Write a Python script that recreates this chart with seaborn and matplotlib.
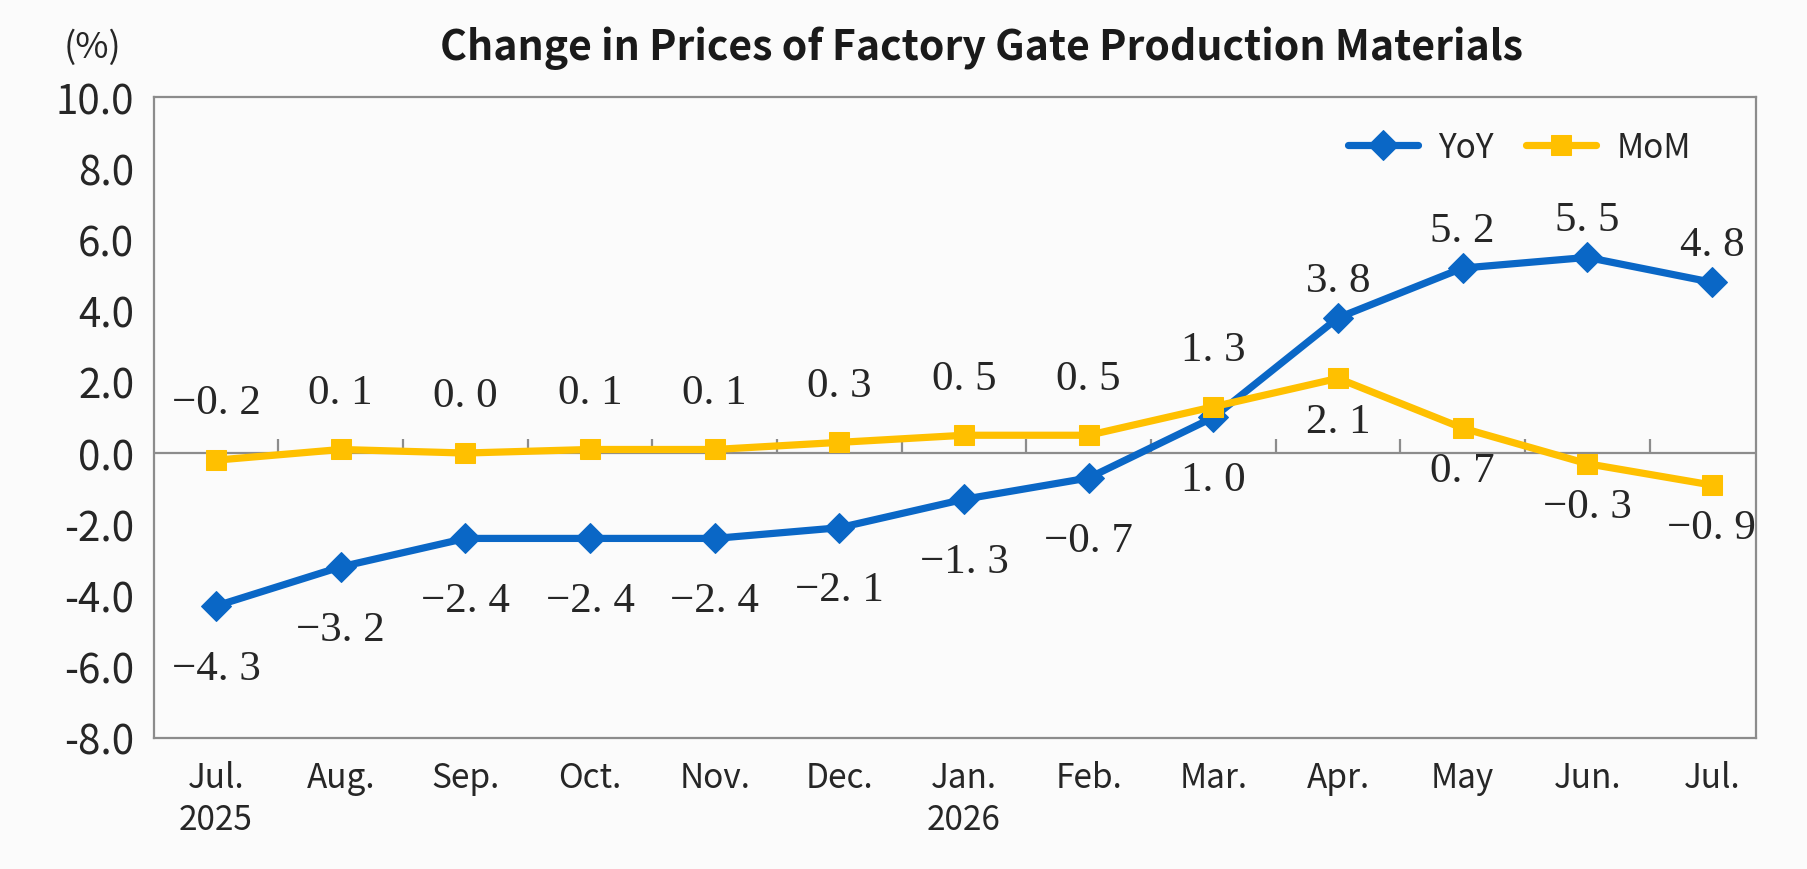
import numpy as np
import pandas as pd
import matplotlib
matplotlib.use('Agg')
import matplotlib.pyplot as plt
import seaborn as sns

# chart data
months = ['Jul.\n2025', 'Aug.', 'Sep.', 'Oct.', 'Nov.', 'Dec.', 'Jan.\n2026',
          'Feb.', 'Mar.', 'Apr.', 'May', 'Jun.', 'Jul.']
yoy = [-4.3, -3.2, -2.4, -2.4, -2.4, -2.1, -1.3, -0.7, 1.0, 3.8, 5.2, 5.5, 4.8]
mom = [-0.2, 0.1, 0.0, 0.1, 0.1, 0.3, 0.5, 0.5, 1.3, 2.1, 0.7, -0.3, -0.9]
y_ticks = [-8.0, -6.0, -4.0, -2.0, 0.0, 2.0, 4.0, 6.0, 8.0, 10.0]
title = 'Change in Prices of Factory Gate Production Materials'

sns.set_style('white')
plt.rcParams['font.family'] = ['Noto Sans CJK SC', 'DejaVu Sans']

blue = '#0A67C6'
gold = '#FFC000'
grey = '#8C8C8C'
bg = '#FBFBFB'

df = pd.DataFrame({'pos': np.arange(len(months)), 'YoY': yoy, 'MoM': mom})

fig = plt.figure(figsize=(18.08, 8.70), dpi=100, facecolor=bg)
ax = fig.add_axes([0.085, 0.151, 0.886, 0.736])
ax.set_facecolor(bg)

sns.lineplot(data=df, x='pos', y='YoY', ax=ax, color=blue, lw=5.2,
             marker='D', markersize=15, markeredgecolor=blue, label='YoY')
sns.lineplot(data=df, x='pos', y='MoM', ax=ax, color=gold, lw=5.2,
             marker='s', markersize=15, markeredgecolor=gold, label='MoM')

ax.set_xlim(-0.5, 12.35)
ax.set_ylim(-8, 10)

# zero line with category separators
ax.axhline(0, color=grey, lw=1.6, zorder=1)
ax.vlines(np.arange(0.5, len(months) - 1), 0, 0.4, color=grey, lw=1.6, zorder=1)

ax.set_xticks(df['pos'])
ax.set_xticklabels(months, fontsize=24, linespacing=1.25)
ax.set_yticks(y_ticks)
ax.set_yticklabels([f'{v:.1f}' for v in y_ticks], fontsize=29)
ax.tick_params(axis='x', length=0, pad=16)
ax.tick_params(axis='y', direction='in', length=9, width=1.6, color=grey, pad=14)
ax.set_xlabel('')
ax.set_ylabel('')
for s in ax.spines.values():
    s.set_color(grey)
    s.set_linewidth(1.6)

def fmt(v):
    return f'{v:.1f}'.replace('-', '\u2212').replace('.', '. ')

# data labels: before Apr. YoY below / MoM above, then swapped
for i, (a, b) in enumerate(zip(yoy, mom)):
    late = i >= 9
    ax.annotate(fmt(a), (i, a), textcoords='offset points',
                xytext=(0, 27 if late else -45), ha='center', va='center',
                fontsize=31, family=['Liberation Serif', 'DejaVu Serif'])
    ax.annotate(fmt(b), (i, b), textcoords='offset points',
                xytext=(0, -31 if late else 41), ha='center', va='center',
                fontsize=31, family=['Liberation Serif', 'DejaVu Serif'])

ax.legend(loc='center right', bbox_to_anchor=(0.968, 0.922), ncol=2,
          frameon=False, fontsize=24, handlelength=2.1, handletextpad=0.6,
          columnspacing=1.0, borderaxespad=0)

fig.text(0.543, 0.945, title, ha='center', va='center', fontsize=29.5,
         fontweight='bold', color='#1a1a1a')
fig.text(0.051, 0.945, '(%)', ha='center', va='center', fontsize=26)

fig.savefig('out.png', dpi=100, facecolor=bg)
